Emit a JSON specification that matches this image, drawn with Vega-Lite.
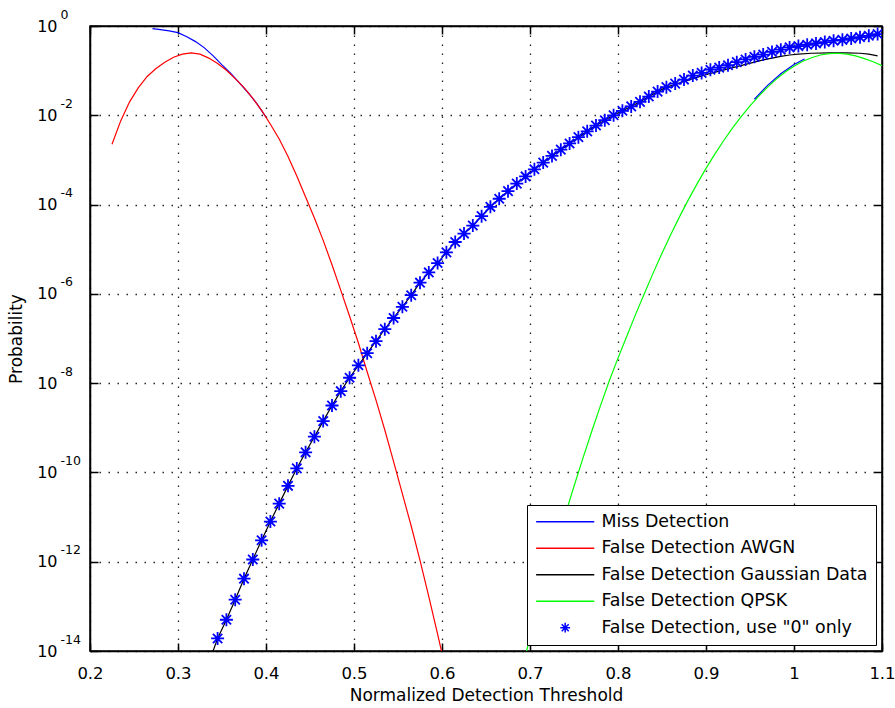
{
  "$schema": "https://vega.github.io/schema/vega-lite/v6.json",
  "width": 792,
  "height": 625,
  "autosize": "none",
  "padding": {"left": 90, "top": 26, "right": 13, "bottom": 57},
  "background": "white",
  "config": {
    "view": {"stroke": "black", "strokeWidth": 1.5},
    "font": "DejaVu Sans",
    "axis": {
      "labelFont": "DejaVu Sans", "labelFontSize": 16.5, "labelColor": "black",
      "titleFont": "DejaVu Sans", "titleFontSize": 17, "titleColor": "black", "titleFontWeight": "normal",
      "domainColor": "black", "domainWidth": 1.5,
      "tickColor": "black", "tickWidth": 1.5, "tickSize": -8,
      "gridColor": "black", "gridDash": [1.5, 7.5], "gridWidth": 1.3, "gridOpacity": 0.85
    }
  },
  "datasets": {
    "lines": [
      {"series": "Miss Detection", "seg": 1, "x": 0.271, "p": 0.871},
      {"series": "Miss Detection", "seg": 1, "x": 0.28, "p": 0.832},
      {"series": "Miss Detection", "seg": 1, "x": 0.29, "p": 0.776},
      {"series": "Miss Detection", "seg": 1, "x": 0.30, "p": 0.708},
      {"series": "Miss Detection", "seg": 1, "x": 0.31, "p": 0.575},
      {"series": "Miss Detection", "seg": 1, "x": 0.32, "p": 0.447},
      {"series": "Miss Detection", "seg": 1, "x": 0.33, "p": 0.324},
      {"series": "Miss Detection", "seg": 1, "x": 0.34, "p": 0.214},
      {"series": "Miss Detection", "seg": 1, "x": 0.35, "p": 0.135},
      {"series": "Miss Detection", "seg": 1, "x": 0.36, "p": 0.0871},
      {"series": "Miss Detection", "seg": 1, "x": 0.37, "p": 0.0525},
      {"series": "Miss Detection", "seg": 1, "x": 0.38, "p": 0.0316},
      {"series": "Miss Detection", "seg": 1, "x": 0.39, "p": 0.0178},
      {"series": "Miss Detection", "seg": 1, "x": 0.40, "p": 0.00912},
      {"series": "Miss Detection", "seg": 2, "x": 0.955, "p": 0.0229},
      {"series": "Miss Detection", "seg": 2, "x": 0.97, "p": 0.0468},
      {"series": "Miss Detection", "seg": 2, "x": 0.985, "p": 0.0851},
      {"series": "Miss Detection", "seg": 2, "x": 1.0, "p": 0.138},
      {"series": "Miss Detection", "seg": 2, "x": 1.012, "p": 0.182},

      {"series": "False Detection AWGN", "seg": 1, "x": 0.225, "p": 2.24e-3},
      {"series": "False Detection AWGN", "seg": 1, "x": 0.235, "p": 7.59e-3},
      {"series": "False Detection AWGN", "seg": 1, "x": 0.245, "p": 2.00e-2},
      {"series": "False Detection AWGN", "seg": 1, "x": 0.255, "p": 4.17e-2},
      {"series": "False Detection AWGN", "seg": 1, "x": 0.265, "p": 7.41e-2},
      {"series": "False Detection AWGN", "seg": 1, "x": 0.275, "p": 0.112},
      {"series": "False Detection AWGN", "seg": 1, "x": 0.285, "p": 0.155},
      {"series": "False Detection AWGN", "seg": 1, "x": 0.295, "p": 0.200},
      {"series": "False Detection AWGN", "seg": 1, "x": 0.305, "p": 0.234},
      {"series": "False Detection AWGN", "seg": 1, "x": 0.315, "p": 0.251},
      {"series": "False Detection AWGN", "seg": 1, "x": 0.325, "p": 0.234},
      {"series": "False Detection AWGN", "seg": 1, "x": 0.335, "p": 0.191},
      {"series": "False Detection AWGN", "seg": 1, "x": 0.345, "p": 0.145},
      {"series": "False Detection AWGN", "seg": 1, "x": 0.355, "p": 0.102},
      {"series": "False Detection AWGN", "seg": 1, "x": 0.365, "p": 0.0661},
      {"series": "False Detection AWGN", "seg": 1, "x": 0.375, "p": 0.0417},
      {"series": "False Detection AWGN", "seg": 1, "x": 0.385, "p": 0.0240},
      {"series": "False Detection AWGN", "seg": 1, "x": 0.395, "p": 0.0129},
      {"series": "False Detection AWGN", "seg": 1, "x": 0.405, "p": 6.31e-3},
      {"series": "False Detection AWGN", "seg": 1, "x": 0.415, "p": 2.95e-3},
      {"series": "False Detection AWGN", "seg": 1, "x": 0.425, "p": 1.20e-3},
      {"series": "False Detection AWGN", "seg": 1, "x": 0.435, "p": 4.37e-4},
      {"series": "False Detection AWGN", "seg": 1, "x": 0.445, "p": 1.48e-4},
      {"series": "False Detection AWGN", "seg": 1, "x": 0.455, "p": 5.01e-5},
      {"series": "False Detection AWGN", "seg": 1, "x": 0.465, "p": 1.58e-5},
      {"series": "False Detection AWGN", "seg": 1, "x": 0.475, "p": 4.47e-6},
      {"series": "False Detection AWGN", "seg": 1, "x": 0.485, "p": 1.20e-6},
      {"series": "False Detection AWGN", "seg": 1, "x": 0.495, "p": 3.16e-7},
      {"series": "False Detection AWGN", "seg": 1, "x": 0.505, "p": 7.94e-8},
      {"series": "False Detection AWGN", "seg": 1, "x": 0.515, "p": 1.78e-8},
      {"series": "False Detection AWGN", "seg": 1, "x": 0.525, "p": 4.17e-9},
      {"series": "False Detection AWGN", "seg": 1, "x": 0.535, "p": 8.91e-10},
      {"series": "False Detection AWGN", "seg": 1, "x": 0.545, "p": 1.74e-10},
      {"series": "False Detection AWGN", "seg": 1, "x": 0.555, "p": 3.31e-11},
      {"series": "False Detection AWGN", "seg": 1, "x": 0.565, "p": 6.31e-12},
      {"series": "False Detection AWGN", "seg": 1, "x": 0.575, "p": 1.07e-12},
      {"series": "False Detection AWGN", "seg": 1, "x": 0.585, "p": 1.66e-13},
      {"series": "False Detection AWGN", "seg": 1, "x": 0.595, "p": 2.40e-14},
      {"series": "False Detection AWGN", "seg": 1, "x": 0.605, "p": 3.31e-15},

      {"series": "False Detection Gaussian Data", "seg": 1, "x": 0.338, "p": 7.94e-15},
      {"series": "False Detection Gaussian Data", "seg": 1, "x": 0.345, "p": 1.91e-14},
      {"series": "False Detection Gaussian Data", "seg": 1, "x": 0.355, "p": 5.01e-14},
      {"series": "False Detection Gaussian Data", "seg": 1, "x": 0.365, "p": 1.41e-13},
      {"series": "False Detection Gaussian Data", "seg": 1, "x": 0.375, "p": 4.17e-13},
      {"series": "False Detection Gaussian Data", "seg": 1, "x": 0.385, "p": 1.12e-12},
      {"series": "False Detection Gaussian Data", "seg": 1, "x": 0.395, "p": 3.02e-12},
      {"series": "False Detection Gaussian Data", "seg": 1, "x": 0.405, "p": 7.94e-12},
      {"series": "False Detection Gaussian Data", "seg": 1, "x": 0.415, "p": 2.00e-11},
      {"series": "False Detection Gaussian Data", "seg": 1, "x": 0.425, "p": 5.01e-11},
      {"series": "False Detection Gaussian Data", "seg": 1, "x": 0.435, "p": 1.23e-10},
      {"series": "False Detection Gaussian Data", "seg": 1, "x": 0.445, "p": 2.82e-10},
      {"series": "False Detection Gaussian Data", "seg": 1, "x": 0.455, "p": 6.31e-10},
      {"series": "False Detection Gaussian Data", "seg": 1, "x": 0.465, "p": 1.41e-9},
      {"series": "False Detection Gaussian Data", "seg": 1, "x": 0.475, "p": 3.16e-9},
      {"series": "False Detection Gaussian Data", "seg": 1, "x": 0.485, "p": 6.61e-9},
      {"series": "False Detection Gaussian Data", "seg": 1, "x": 0.495, "p": 1.32e-8},
      {"series": "False Detection Gaussian Data", "seg": 1, "x": 0.505, "p": 2.51e-8},
      {"series": "False Detection Gaussian Data", "seg": 1, "x": 0.515, "p": 4.68e-8},
      {"series": "False Detection Gaussian Data", "seg": 1, "x": 0.525, "p": 8.71e-8},
      {"series": "False Detection Gaussian Data", "seg": 1, "x": 0.535, "p": 1.62e-7},
      {"series": "False Detection Gaussian Data", "seg": 1, "x": 0.545, "p": 2.88e-7},
      {"series": "False Detection Gaussian Data", "seg": 1, "x": 0.555, "p": 5.13e-7},
      {"series": "False Detection Gaussian Data", "seg": 1, "x": 0.565, "p": 9.33e-7},
      {"series": "False Detection Gaussian Data", "seg": 1, "x": 0.575, "p": 1.78e-6},
      {"series": "False Detection Gaussian Data", "seg": 1, "x": 0.585, "p": 3.02e-6},
      {"series": "False Detection Gaussian Data", "seg": 1, "x": 0.595, "p": 4.90e-6},
      {"series": "False Detection Gaussian Data", "seg": 1, "x": 0.605, "p": 8.51e-6},
      {"series": "False Detection Gaussian Data", "seg": 1, "x": 0.615, "p": 1.45e-5},
      {"series": "False Detection Gaussian Data", "seg": 1, "x": 0.625, "p": 2.24e-5},
      {"series": "False Detection Gaussian Data", "seg": 1, "x": 0.635, "p": 3.39e-5},
      {"series": "False Detection Gaussian Data", "seg": 1, "x": 0.645, "p": 5.50e-5},
      {"series": "False Detection Gaussian Data", "seg": 1, "x": 0.655, "p": 8.91e-5},
      {"series": "False Detection Gaussian Data", "seg": 1, "x": 0.665, "p": 1.35e-4},
      {"series": "False Detection Gaussian Data", "seg": 1, "x": 0.675, "p": 2.00e-4},
      {"series": "False Detection Gaussian Data", "seg": 1, "x": 0.685, "p": 2.95e-4},
      {"series": "False Detection Gaussian Data", "seg": 1, "x": 0.695, "p": 4.27e-4},
      {"series": "False Detection Gaussian Data", "seg": 1, "x": 0.705, "p": 6.17e-4},
      {"series": "False Detection Gaussian Data", "seg": 1, "x": 0.715, "p": 8.71e-4},
      {"series": "False Detection Gaussian Data", "seg": 1, "x": 0.725, "p": 1.23e-3},
      {"series": "False Detection Gaussian Data", "seg": 1, "x": 0.735, "p": 1.70e-3},
      {"series": "False Detection Gaussian Data", "seg": 1, "x": 0.745, "p": 2.34e-3},
      {"series": "False Detection Gaussian Data", "seg": 1, "x": 0.755, "p": 3.24e-3},
      {"series": "False Detection Gaussian Data", "seg": 1, "x": 0.765, "p": 4.37e-3},
      {"series": "False Detection Gaussian Data", "seg": 1, "x": 0.775, "p": 5.89e-3},
      {"series": "False Detection Gaussian Data", "seg": 1, "x": 0.785, "p": 7.76e-3},
      {"series": "False Detection Gaussian Data", "seg": 1, "x": 0.795, "p": 1.00e-2},
      {"series": "False Detection Gaussian Data", "seg": 1, "x": 0.805, "p": 1.26e-2},
      {"series": "False Detection Gaussian Data", "seg": 1, "x": 0.815, "p": 1.58e-2},
      {"series": "False Detection Gaussian Data", "seg": 1, "x": 0.825, "p": 2.00e-2},
      {"series": "False Detection Gaussian Data", "seg": 1, "x": 0.835, "p": 2.63e-2},
      {"series": "False Detection Gaussian Data", "seg": 1, "x": 0.845, "p": 3.39e-2},
      {"series": "False Detection Gaussian Data", "seg": 1, "x": 0.855, "p": 4.27e-2},
      {"series": "False Detection Gaussian Data", "seg": 1, "x": 0.865, "p": 4.90e-2},
      {"series": "False Detection Gaussian Data", "seg": 1, "x": 0.875, "p": 5.75e-2},
      {"series": "False Detection Gaussian Data", "seg": 1, "x": 0.885, "p": 6.61e-2},
      {"series": "False Detection Gaussian Data", "seg": 1, "x": 0.895, "p": 7.59e-2},
      {"series": "False Detection Gaussian Data", "seg": 1, "x": 0.905, "p": 8.71e-2},
      {"series": "False Detection Gaussian Data", "seg": 1, "x": 0.915, "p": 9.77e-2},
      {"series": "False Detection Gaussian Data", "seg": 1, "x": 0.925, "p": 0.110},
      {"series": "False Detection Gaussian Data", "seg": 1, "x": 0.935, "p": 0.123},
      {"series": "False Detection Gaussian Data", "seg": 1, "x": 0.945, "p": 0.138},
      {"series": "False Detection Gaussian Data", "seg": 1, "x": 0.955, "p": 0.155},
      {"series": "False Detection Gaussian Data", "seg": 1, "x": 0.965, "p": 0.174},
      {"series": "False Detection Gaussian Data", "seg": 1, "x": 0.975, "p": 0.191},
      {"series": "False Detection Gaussian Data", "seg": 1, "x": 0.985, "p": 0.209},
      {"series": "False Detection Gaussian Data", "seg": 1, "x": 0.995, "p": 0.224},
      {"series": "False Detection Gaussian Data", "seg": 1, "x": 1.005, "p": 0.234},
      {"series": "False Detection Gaussian Data", "seg": 1, "x": 1.02, "p": 0.245},
      {"series": "False Detection Gaussian Data", "seg": 1, "x": 1.04, "p": 0.251},
      {"series": "False Detection Gaussian Data", "seg": 1, "x": 1.06, "p": 0.251},
      {"series": "False Detection Gaussian Data", "seg": 1, "x": 1.075, "p": 0.245},
      {"series": "False Detection Gaussian Data", "seg": 1, "x": 1.085, "p": 0.234},
      {"series": "False Detection Gaussian Data", "seg": 1, "x": 1.095, "p": 0.214},

      {"series": "False Detection QPSK", "seg": 1, "x": 0.69, "p": 3.55e-15},
      {"series": "False Detection QPSK", "seg": 1, "x": 0.70, "p": 1.95e-14},
      {"series": "False Detection QPSK", "seg": 1, "x": 0.71, "p": 1.02e-13},
      {"series": "False Detection QPSK", "seg": 1, "x": 0.72, "p": 5.13e-13},
      {"series": "False Detection QPSK", "seg": 1, "x": 0.73, "p": 2.45e-12},
      {"series": "False Detection QPSK", "seg": 1, "x": 0.74, "p": 1.12e-11},
      {"series": "False Detection QPSK", "seg": 1, "x": 0.75, "p": 4.90e-11},
      {"series": "False Detection QPSK", "seg": 1, "x": 0.76, "p": 2.04e-10},
      {"series": "False Detection QPSK", "seg": 1, "x": 0.77, "p": 8.13e-10},
      {"series": "False Detection QPSK", "seg": 1, "x": 0.78, "p": 3.09e-9},
      {"series": "False Detection QPSK", "seg": 1, "x": 0.79, "p": 1.12e-8},
      {"series": "False Detection QPSK", "seg": 1, "x": 0.80, "p": 3.63e-8},
      {"series": "False Detection QPSK", "seg": 1, "x": 0.81, "p": 1.12e-7},
      {"series": "False Detection QPSK", "seg": 1, "x": 0.82, "p": 3.47e-7},
      {"series": "False Detection QPSK", "seg": 1, "x": 0.83, "p": 1.02e-6},
      {"series": "False Detection QPSK", "seg": 1, "x": 0.84, "p": 2.95e-6},
      {"series": "False Detection QPSK", "seg": 1, "x": 0.85, "p": 8.13e-6},
      {"series": "False Detection QPSK", "seg": 1, "x": 0.86, "p": 2.14e-5},
      {"series": "False Detection QPSK", "seg": 1, "x": 0.87, "p": 5.37e-5},
      {"series": "False Detection QPSK", "seg": 1, "x": 0.88, "p": 1.29e-4},
      {"series": "False Detection QPSK", "seg": 1, "x": 0.89, "p": 2.95e-4},
      {"series": "False Detection QPSK", "seg": 1, "x": 0.90, "p": 6.46e-4},
      {"series": "False Detection QPSK", "seg": 1, "x": 0.91, "p": 1.35e-3},
      {"series": "False Detection QPSK", "seg": 1, "x": 0.92, "p": 2.69e-3},
      {"series": "False Detection QPSK", "seg": 1, "x": 0.93, "p": 5.13e-3},
      {"series": "False Detection QPSK", "seg": 1, "x": 0.94, "p": 9.33e-3},
      {"series": "False Detection QPSK", "seg": 1, "x": 0.95, "p": 1.62e-2},
      {"series": "False Detection QPSK", "seg": 1, "x": 0.96, "p": 2.69e-2},
      {"series": "False Detection QPSK", "seg": 1, "x": 0.97, "p": 4.27e-2},
      {"series": "False Detection QPSK", "seg": 1, "x": 0.98, "p": 6.46e-2},
      {"series": "False Detection QPSK", "seg": 1, "x": 0.99, "p": 9.33e-2},
      {"series": "False Detection QPSK", "seg": 1, "x": 1.00, "p": 0.126},
      {"series": "False Detection QPSK", "seg": 1, "x": 1.01, "p": 0.162},
      {"series": "False Detection QPSK", "seg": 1, "x": 1.02, "p": 0.195},
      {"series": "False Detection QPSK", "seg": 1, "x": 1.03, "p": 0.224},
      {"series": "False Detection QPSK", "seg": 1, "x": 1.04, "p": 0.240},
      {"series": "False Detection QPSK", "seg": 1, "x": 1.05, "p": 0.245},
      {"series": "False Detection QPSK", "seg": 1, "x": 1.06, "p": 0.234},
      {"series": "False Detection QPSK", "seg": 1, "x": 1.07, "p": 0.214},
      {"series": "False Detection QPSK", "seg": 1, "x": 1.08, "p": 0.186},
      {"series": "False Detection QPSK", "seg": 1, "x": 1.09, "p": 0.158},
      {"series": "False Detection QPSK", "seg": 1, "x": 1.10, "p": 0.129}
    ],
    "stars": [
      {"series": "False Detection, use \"0\" only", "x": 0.345, "p": 1.91e-14},
      {"series": "False Detection, use \"0\" only", "x": 0.355, "p": 5.01e-14},
      {"series": "False Detection, use \"0\" only", "x": 0.365, "p": 1.41e-13},
      {"series": "False Detection, use \"0\" only", "x": 0.375, "p": 4.17e-13},
      {"series": "False Detection, use \"0\" only", "x": 0.385, "p": 1.12e-12},
      {"series": "False Detection, use \"0\" only", "x": 0.395, "p": 3.02e-12},
      {"series": "False Detection, use \"0\" only", "x": 0.405, "p": 7.94e-12},
      {"series": "False Detection, use \"0\" only", "x": 0.415, "p": 2.00e-11},
      {"series": "False Detection, use \"0\" only", "x": 0.425, "p": 5.01e-11},
      {"series": "False Detection, use \"0\" only", "x": 0.435, "p": 1.23e-10},
      {"series": "False Detection, use \"0\" only", "x": 0.445, "p": 2.82e-10},
      {"series": "False Detection, use \"0\" only", "x": 0.455, "p": 6.31e-10},
      {"series": "False Detection, use \"0\" only", "x": 0.465, "p": 1.41e-9},
      {"series": "False Detection, use \"0\" only", "x": 0.475, "p": 3.16e-9},
      {"series": "False Detection, use \"0\" only", "x": 0.485, "p": 6.61e-9},
      {"series": "False Detection, use \"0\" only", "x": 0.495, "p": 1.32e-8},
      {"series": "False Detection, use \"0\" only", "x": 0.505, "p": 2.51e-8},
      {"series": "False Detection, use \"0\" only", "x": 0.515, "p": 4.68e-8},
      {"series": "False Detection, use \"0\" only", "x": 0.525, "p": 8.71e-8},
      {"series": "False Detection, use \"0\" only", "x": 0.535, "p": 1.62e-7},
      {"series": "False Detection, use \"0\" only", "x": 0.545, "p": 2.88e-7},
      {"series": "False Detection, use \"0\" only", "x": 0.555, "p": 5.13e-7},
      {"series": "False Detection, use \"0\" only", "x": 0.565, "p": 9.33e-7},
      {"series": "False Detection, use \"0\" only", "x": 0.575, "p": 1.78e-6},
      {"series": "False Detection, use \"0\" only", "x": 0.585, "p": 3.02e-6},
      {"series": "False Detection, use \"0\" only", "x": 0.595, "p": 4.90e-6},
      {"series": "False Detection, use \"0\" only", "x": 0.605, "p": 8.51e-6},
      {"series": "False Detection, use \"0\" only", "x": 0.615, "p": 1.45e-5},
      {"series": "False Detection, use \"0\" only", "x": 0.625, "p": 2.24e-5},
      {"series": "False Detection, use \"0\" only", "x": 0.635, "p": 3.39e-5},
      {"series": "False Detection, use \"0\" only", "x": 0.645, "p": 5.50e-5},
      {"series": "False Detection, use \"0\" only", "x": 0.655, "p": 8.91e-5},
      {"series": "False Detection, use \"0\" only", "x": 0.665, "p": 1.35e-4},
      {"series": "False Detection, use \"0\" only", "x": 0.675, "p": 2.00e-4},
      {"series": "False Detection, use \"0\" only", "x": 0.685, "p": 2.95e-4},
      {"series": "False Detection, use \"0\" only", "x": 0.695, "p": 4.27e-4},
      {"series": "False Detection, use \"0\" only", "x": 0.705, "p": 6.17e-4},
      {"series": "False Detection, use \"0\" only", "x": 0.715, "p": 8.71e-4},
      {"series": "False Detection, use \"0\" only", "x": 0.725, "p": 1.23e-3},
      {"series": "False Detection, use \"0\" only", "x": 0.735, "p": 1.70e-3},
      {"series": "False Detection, use \"0\" only", "x": 0.745, "p": 2.34e-3},
      {"series": "False Detection, use \"0\" only", "x": 0.755, "p": 3.24e-3},
      {"series": "False Detection, use \"0\" only", "x": 0.765, "p": 4.37e-3},
      {"series": "False Detection, use \"0\" only", "x": 0.775, "p": 5.89e-3},
      {"series": "False Detection, use \"0\" only", "x": 0.785, "p": 7.76e-3},
      {"series": "False Detection, use \"0\" only", "x": 0.795, "p": 1.00e-2},
      {"series": "False Detection, use \"0\" only", "x": 0.805, "p": 1.26e-2},
      {"series": "False Detection, use \"0\" only", "x": 0.815, "p": 1.58e-2},
      {"series": "False Detection, use \"0\" only", "x": 0.825, "p": 2.00e-2},
      {"series": "False Detection, use \"0\" only", "x": 0.835, "p": 2.63e-2},
      {"series": "False Detection, use \"0\" only", "x": 0.845, "p": 3.39e-2},
      {"series": "False Detection, use \"0\" only", "x": 0.855, "p": 4.27e-2},
      {"series": "False Detection, use \"0\" only", "x": 0.865, "p": 5.13e-2},
      {"series": "False Detection, use \"0\" only", "x": 0.875, "p": 6.31e-2},
      {"series": "False Detection, use \"0\" only", "x": 0.885, "p": 7.76e-2},
      {"series": "False Detection, use \"0\" only", "x": 0.895, "p": 8.91e-2},
      {"series": "False Detection, use \"0\" only", "x": 0.905, "p": 0.105},
      {"series": "False Detection, use \"0\" only", "x": 0.915, "p": 0.117},
      {"series": "False Detection, use \"0\" only", "x": 0.925, "p": 0.132},
      {"series": "False Detection, use \"0\" only", "x": 0.935, "p": 0.155},
      {"series": "False Detection, use \"0\" only", "x": 0.945, "p": 0.178},
      {"series": "False Detection, use \"0\" only", "x": 0.955, "p": 0.204},
      {"series": "False Detection, use \"0\" only", "x": 0.965, "p": 0.229},
      {"series": "False Detection, use \"0\" only", "x": 0.975, "p": 0.263},
      {"series": "False Detection, use \"0\" only", "x": 0.985, "p": 0.295},
      {"series": "False Detection, use \"0\" only", "x": 0.995, "p": 0.331},
      {"series": "False Detection, use \"0\" only", "x": 1.005, "p": 0.355},
      {"series": "False Detection, use \"0\" only", "x": 1.015, "p": 0.380},
      {"series": "False Detection, use \"0\" only", "x": 1.025, "p": 0.407},
      {"series": "False Detection, use \"0\" only", "x": 1.035, "p": 0.437},
      {"series": "False Detection, use \"0\" only", "x": 1.045, "p": 0.468},
      {"series": "False Detection, use \"0\" only", "x": 1.055, "p": 0.490},
      {"series": "False Detection, use \"0\" only", "x": 1.065, "p": 0.525},
      {"series": "False Detection, use \"0\" only", "x": 1.075, "p": 0.562},
      {"series": "False Detection, use \"0\" only", "x": 1.085, "p": 0.603},
      {"series": "False Detection, use \"0\" only", "x": 1.095, "p": 0.661}
    ]
  },
  "resolve": {"axis": {"x": "independent", "y": "independent"}},
  "layer": [
    {
      "data": {"name": "lines"},
      "transform": [{"filter": {"field": "series", "equal": "Miss Detection"}}],
      "mark": {"type": "line", "clip": true, "strokeWidth": 1.2},
      "encoding": {
        "x": {"field": "x", "type": "quantitative",
              "scale": {"domain": [0.2, 1.1], "nice": false, "zero": false},
              "axis": {"orient": "bottom", "title": "Normalized Detection Threshold", "values": [0.2, 0.3, 0.4, 0.5, 0.6, 0.7, 0.8, 0.9, 1.0, 1.1], "format": "~g", "grid": true, "labelPadding": 22, "titlePadding": 6, "labelFlush": false}},
        "y": {"field": "p", "type": "quantitative",
              "scale": {"type": "log", "domain": [1e-14, 1], "nice": false},
              "axis": {"orient": "left", "title": "Probability", "values": [1e-14, 1e-12, 1e-10, 1e-8, 1e-6, 1e-4, 1e-2, 1], "grid": true, "labelPadding": 41, "titlePadding": 11, "labelFontSize": 16, "labelFlush": false, "labelOverlap": false,
                       "labelExpr": "'10'"}},
        "color": {"field": "series", "type": "nominal",
                  "scale": {"domain": ["Miss Detection", "False Detection AWGN", "False Detection Gaussian Data", "False Detection QPSK", "False Detection, use \"0\" only"],
                            "range": ["#0000ff", "#ff0000", "#000000", "#00ff00", "#0000ff"]},
                  "legend": {
                    "orient": "bottom-right", "offset": 6, "title": null,
                    "strokeColor": "black", "fillColor": "white", "padding": 8,
                    "labelFont": "DejaVu Sans", "labelFontSize": 17.4, "labelColor": "black", "labelLimit": 400,
                    "symbolSize": 196, "symbolOffset": 21.5, "labelOffset": 27.5, "rowPadding": 7.5,
                    "symbolStrokeWidth": 1.5,
                    "encode": {"symbols": {"update": {
                      "shape": {"signal": "datum.index === 4 ? 'M-0.7,0L0.7,0M0,-0.7L0,0.7M-0.5,-0.5L0.5,0.5M-0.5,0.5L0.5,-0.5' : 'M-4.15,0L4.15,0'"},
                      "fill": {"value": "transparent"},
                      "stroke": {"scale": "color", "field": "value"}
                    }}}
                  }},
        "detail": {"field": "seg", "type": "nominal"}
      }
    },
    {
      "data": {"name": "lines"},
      "transform": [{"filter": {"field": "series", "equal": "False Detection AWGN"}}],
      "mark": {"type": "line", "clip": true, "strokeWidth": 1.2},
      "encoding": {
        "x": {"field": "x", "type": "quantitative", "scale": {"domain": [0.2, 1.1], "nice": false, "zero": false}, "axis": null},
        "y": {"field": "p", "type": "quantitative", "scale": {"type": "log", "domain": [1e-14, 1], "nice": false},
              "axis": {"orient": "left", "title": null, "values": [1e-14, 1e-12, 1e-10, 1e-8, 1e-6, 1e-4, 1e-2, 1], "grid": false, "ticks": false, "domain": false,
                       "labelAlign": "left", "labelBaseline": "middle", "labelPadding": 30, "labelOffset": -12, "labelFontSize": 12.5, "labelFlush": false, "labelOverlap": false,
                       "labelExpr": "'' + round(log(datum.value) / LN10)"}},
        "color": {"field": "series", "type": "nominal"}
      }
    },
    {
      "data": {"name": "lines"},
      "transform": [{"filter": {"field": "series", "equal": "False Detection Gaussian Data"}}],
      "mark": {"type": "line", "clip": true, "strokeWidth": 1.2},
      "encoding": {
        "x": {"field": "x", "type": "quantitative", "scale": {"domain": [0.2, 1.1], "nice": false, "zero": false}, "axis": null},
        "y": {"field": "p", "type": "quantitative", "scale": {"type": "log", "domain": [1e-14, 1], "nice": false}, "axis": null},
        "color": {"field": "series", "type": "nominal"}
      }
    },
    {
      "data": {"name": "lines"},
      "transform": [{"filter": {"field": "series", "equal": "False Detection QPSK"}}],
      "mark": {"type": "line", "clip": true, "strokeWidth": 1.2},
      "encoding": {
        "x": {"field": "x", "type": "quantitative", "scale": {"domain": [0.2, 1.1], "nice": false, "zero": false}, "axis": null},
        "y": {"field": "p", "type": "quantitative", "scale": {"type": "log", "domain": [1e-14, 1], "nice": false}, "axis": null},
        "color": {"field": "series", "type": "nominal"}
      }
    },
    {
      "data": {"name": "stars"},
      "mark": {"type": "point", "shape": "M-1,0L1,0M0,-1L0,1M-0.72,-0.72L0.72,0.72M-0.72,0.72L0.72,-0.72", "filled": false, "size": 169, "strokeWidth": 1.8, "opacity": 1, "clip": true},
      "encoding": {
        "x": {"field": "x", "type": "quantitative", "scale": {"domain": [0.2, 1.1], "nice": false, "zero": false},
              "axis": {"orient": "top", "title": null, "labels": false, "grid": false, "values": [0.2, 0.3, 0.4, 0.5, 0.6, 0.7, 0.8, 0.9, 1.0, 1.1]}},
        "y": {"field": "p", "type": "quantitative", "scale": {"type": "log", "domain": [1e-14, 1], "nice": false},
              "axis": {"orient": "right", "title": null, "labels": false, "grid": false, "values": [1e-14, 1e-12, 1e-10, 1e-8, 1e-6, 1e-4, 1e-2, 1]}},
        "color": {"field": "series", "type": "nominal"}
      }
    }
  ]
}
